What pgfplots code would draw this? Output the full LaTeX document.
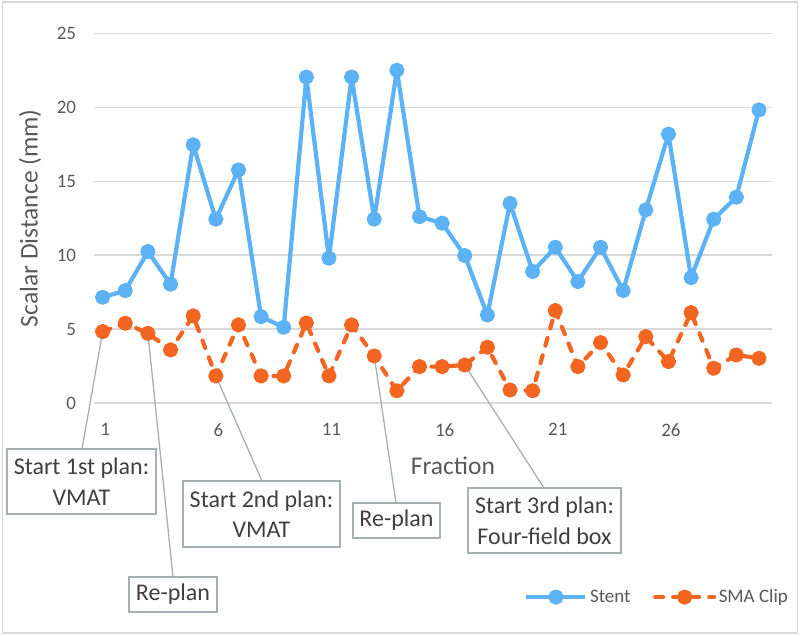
\documentclass[border=0pt]{standalone}
\usepackage{pgfplots}
\pgfplotsset{compat=1.18}
\usepackage{fontspec}
\setmainfont{Carlito}
\definecolor{stent}{RGB}{92,178,245}
\definecolor{sma}{RGB}{242,102,34}
\definecolor{gridc}{RGB}{217,217,217}
\definecolor{txt}{RGB}{89,89,89}
\definecolor{anntxt}{RGB}{64,64,64}
\definecolor{callc}{RGB}{166,176,176}
\tikzset{
  callout/.style={callc, line width=1.3pt},
  cbox/.style={draw=callc, line width=1.5pt, fill=white, inner sep=0pt, align=center,
    font=\fontsize{24}{30.5}\selectfont, text=anntxt},
}
\begin{document}
\begin{tikzpicture}
\useasboundingbox (0,0) rectangle (800pt,635pt);
\draw[gridc, line width=1.2pt] (2.5pt,2pt) rectangle (797.5pt,633pt);
\begin{axis}[
  at={(94.3pt,232pt)}, anchor=south west,
  scale only axis, width=678pt, height=369.7pt,
  xmin=0.63, xmax=30.59, ymin=0, ymax=25,
  clip=false,
  axis line style={draw=none},
  major tick length=0pt,
  xtick={1,6,11,16,21,26},
  ytick={0,5,10,15,20,25},
  ymajorgrids, grid style={gridc, line width=1.3pt},
  /pgf/number format/assume math mode=true,
  tick label style={font=\fontsize{19}{23}\selectfont, text=txt},
  yticklabel style={anchor=east, inner sep=0pt, xshift=-18pt},
  xticklabel style={anchor=north, inner sep=0pt, yshift=-20pt, xshift=2.5pt},
  xlabel={Fraction}, ylabel={Scalar Distance (mm)},
  label style={font=\fontsize{25.5}{30}\selectfont, text=txt},
  xlabel style={at={(axis description cs:0.529,-0.170)}, anchor=center},
  ylabel style={at={(axis description cs:-0.0948,0.5)}, anchor=center},
  legend columns=2,
  legend style={at={(axis description cs:0.634,-0.525)}, anchor=west, draw=none, fill=none, inner sep=0pt,
    font=\fontsize{19}{23}\selectfont, text=txt,
    /tikz/every even column/.append style={column sep=20pt},
    nodes={inner sep=2.5pt}},
  legend image code/.code={\draw[mark repeat=2,mark phase=2,#1] plot coordinates {(0pt,0pt) (29.5pt,0pt) (59pt,0pt)};},
]
% callout lines
\draw[callout] (axis cs:1,4.83) -- (axis cs:0.0865,-3.111);
\draw[callout] (axis cs:3,4.71) -- (axis cs:4.108,-11.766);
\draw[callout] (axis cs:6,1.83) -- (axis cs:8.041,-5.275);
\draw[callout] (axis cs:13,3.18) -- (axis cs:13.962,-6.762);
\draw[callout] (axis cs:17,2.57) -- (axis cs:20.502,-5.748);
% callout boxes
\node[cbox, minimum width=149pt, minimum height=65pt] at (axis cs:0.0644,-5.308) {Start 1st plan:\\VMAT};
\node[cbox, minimum width=88pt, minimum height=35pt] at (axis cs:4.108,-12.950) {Re-plan};
\node[cbox, minimum width=157pt, minimum height=66pt] at (axis cs:8.019,-7.506) {Start 2nd plan:\\VMAT};
\node[cbox, minimum width=87pt, minimum height=35pt] at (axis cs:13.984,-7.946) {Re-plan};
\node[cbox, minimum width=153pt, minimum height=65pt] at (axis cs:20.524,-7.946) {Start 3rd plan:\\Four-field box};

\addplot[stent, line width=4.2pt, line join=round, mark=*, mark size=5.5pt, mark options={solid, fill=stent, draw=none}] coordinates {
(1,7.15) (2,7.6) (3,10.24) (4,8.03) (5,17.46) (6,12.43) (7,15.76) (8,5.84) (9,5.12) (10,22.04)
(11,9.79) (12,22.04) (13,12.43) (14,22.5) (15,12.6) (16,12.16) (17,9.97) (18,5.95) (19,13.5) (20,8.89)
(21,10.53) (22,8.21) (23,10.53) (24,7.6) (25,13.06) (26,18.18) (27,8.48) (28,12.43) (29,13.92) (30,19.82)
};
\addlegendentry{Stent}
\addplot[sma, line width=4.2pt, line cap=round, line join=round, dash pattern=on 8pt off 10pt, mark=*, mark size=5.5pt, mark options={solid, fill=sma, draw=none}] coordinates {
(1,4.83) (2,5.39) (3,4.71) (4,3.59) (5,5.89) (6,1.83) (7,5.28) (8,1.83) (9,1.83) (10,5.41)
(11,1.83) (12,5.28) (13,3.18) (14,0.83) (15,2.46) (16,2.46) (17,2.57) (18,3.77) (19,0.88) (20,0.83)
(21,6.25) (22,2.46) (23,4.08) (24,1.89) (25,4.49) (26,2.8) (27,6.11) (28,2.35) (29,3.25) (30,3.02)
};
\addlegendentry{SMA Clip}
\end{axis}
\end{tikzpicture}
\end{document}
